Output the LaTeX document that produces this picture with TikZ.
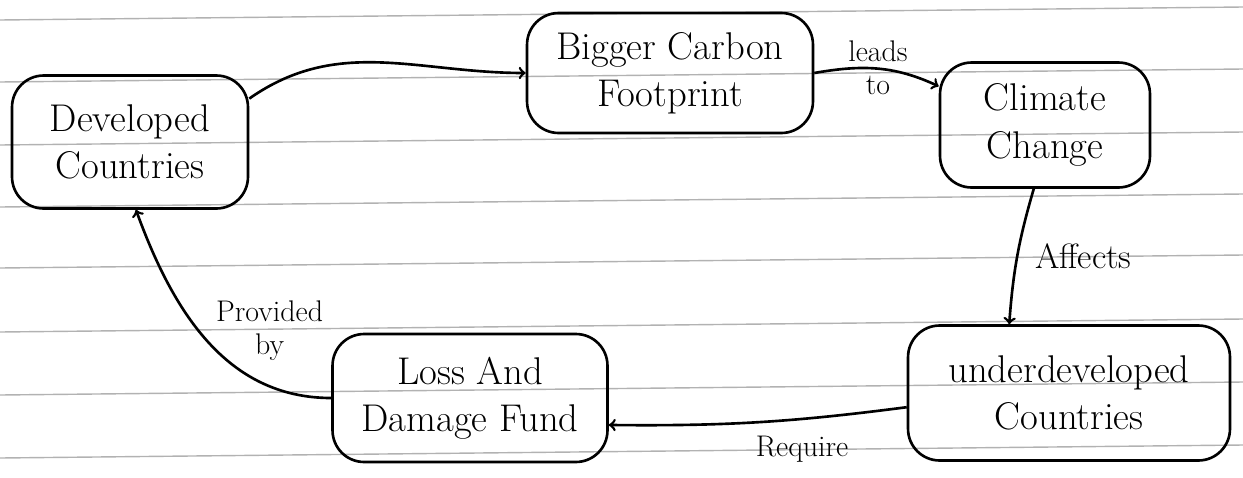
\documentclass[tikz,border=0pt]{standalone}
\usepackage{tikz}

\begin{document}
\begin{tikzpicture}[x=0.02cm, y=-0.02cm,
		box/.style={draw, line width=1.5pt, rounded corners=18pt, align=center, font=\fontsize{22}{27}\selectfont},
		lbl/.style={font=\fontsize{17}{19}\selectfont, align=center},
		link/.style={->, line width=1.5pt}]
		\useasboundingbox (0,0) rectangle (1243,477);
		
		\begin{scope}[gray!60, line width=0.8pt]
			\foreach \y in {20,82,145,207,268,332,395,458}
				\draw (0,\y) -- (1243,\y-13);
		\end{scope}
		
		\node [box, minimum width=4.72cm, minimum height=2.66cm] (dev) at (130,142) {Developed\\Countries};
		\node [box, minimum width=5.72cm, minimum height=2.4cm] (carbon) at (670,73) {Bigger Carbon\\Footprint};
		\node [box, minimum width=4.2cm, minimum height=2.5cm] (climate) at (1045,125) {Climate\\Change};
		\node [box, minimum width=6.44cm, minimum height=2.7cm] (under) at (1069,393) {underdeveloped\\Countries};
		\node [box, minimum width=5.5cm, minimum height=2.56cm] (loss) at (470,398) {Loss And\\Damage Fund};
		
		\draw [link] (dev.20) to [out=35, in=180] (carbon.west);
		\draw [link] (carbon.east) to [out=10, in=155] node [lbl, above] {leads} node [lbl, below] {to} (climate.160);
		\draw [link] (climate.-100) to [bend right=6] node [lbl, right=6pt, font=\fontsize{20}{22}\selectfont] {Affects} (under.131);
		\draw [link] (under.185) to [bend left=4] node [lbl, below=4pt, xshift=25pt] {Require} (loss.-11);
		\draw [link] (loss.west) to [out=180, in=-70] node [lbl, pos=0.55, right=6pt] {Provided\\by} (dev.-85);
	\end{tikzpicture}
\end{document}
